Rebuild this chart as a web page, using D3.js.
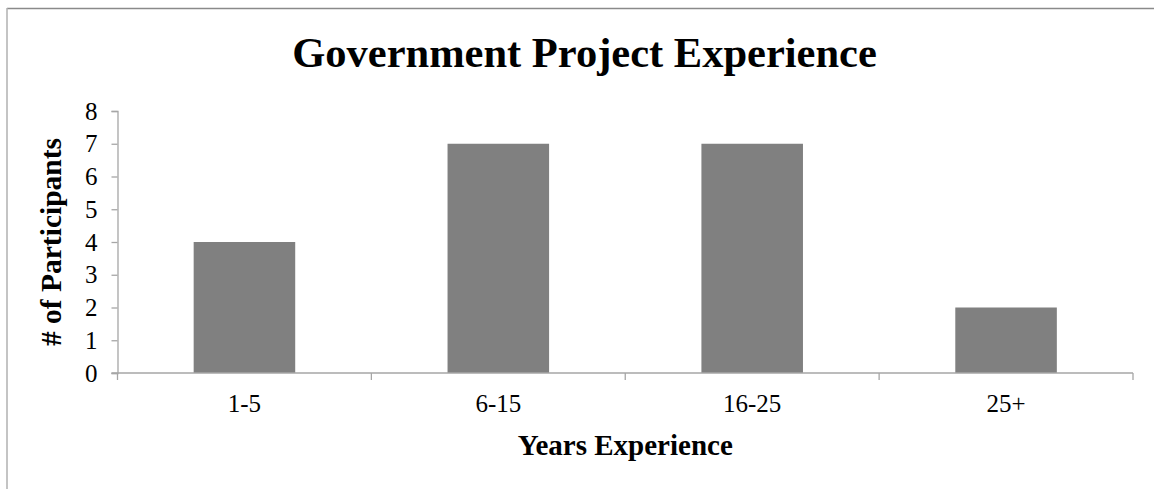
<!DOCTYPE html>
<html><head><meta charset="utf-8">
<script src="https://cdn.jsdelivr.net/npm/d3@7"></script>
<style>
html,body{margin:0;padding:0;background:#fff;}
svg{display:block;}
text{font-family:"Times New Roman","Liberation Serif",serif;fill:#000;}
</style></head>
<body>
<svg id="chart" width="1154" height="489"></svg>
<script>
const categories = ["1-5", "6-15", "16-25", "25+"];
const values = [4, 7, 7, 2];
const yTicks = [0, 1, 2, 3, 4, 5, 6, 7, 8];
const title = "Government Project Experience";
const xTitle = "Years Experience";
const yTitle = "# of Participants";

const svg = d3.select("#chart");
const W = 1154, H = 489;
const m = {left: 117.5, right: 1133, top: 111, bottom: 373};

// chart border (clipped at right/bottom like the reference)
svg.append("line").attr("x1", 7).attr("x2", W).attr("y1", 8.5).attr("y2", 8.5)
  .attr("stroke", "#8a8a8a").attr("stroke-width", 1.5);
svg.append("line").attr("x1", 7).attr("x2", 7).attr("y1", 8).attr("y2", H)
  .attr("stroke", "#b0b0b0").attr("stroke-width", 1.5);

const x = d3.scaleBand().domain(categories).range([m.left, m.right])
  .paddingInner(0.6).paddingOuter(0.3);
const y = d3.scaleLinear().domain([0, 8]).range([m.bottom, m.top]);

// bars
svg.append("g").selectAll("rect").data(values).join("rect")
  .attr("x", (d, i) => x(categories[i]))
  .attr("width", x.bandwidth())
  .attr("y", d => y(d))
  .attr("height", d => y(0) - y(d))
  .attr("fill", "#808080");

// y axis
const yAxis = svg.append("g").attr("transform", `translate(${m.left},0)`)
  .call(d3.axisLeft(y).tickValues(yTicks).tickFormat(d3.format("d")).tickSize(6).tickPadding(14));
yAxis.attr("font-family", null).attr("font-size", null);
yAxis.select(".domain").attr("stroke", "#a6a6a6").attr("stroke-width", 1.3);
yAxis.selectAll(".tick line").attr("stroke", "#a6a6a6").attr("stroke-width", 1.3);
yAxis.selectAll(".tick text").attr("font-size", 25).attr("fill", "#000");

// x axis line
svg.append("line").attr("x1", m.left - 6).attr("x2", m.right).attr("y1", y(0)).attr("y2", y(0))
  .attr("stroke", "#a6a6a6").attr("stroke-width", 1.3);
// x ticks at category boundaries
const step = x.step();
const bounds = categories.map(c => x(c) + x.bandwidth() / 2 - step / 2);
bounds.push(x(categories[categories.length - 1]) + x.bandwidth() / 2 + step / 2);
svg.append("g").selectAll("line").data(bounds).join("line")
  .attr("x1", d => d).attr("x2", d => d)
  .attr("y1", y(0)).attr("y2", y(0) + 7)
  .attr("stroke", "#a6a6a6").attr("stroke-width", 1.3);
// x labels
svg.append("g").selectAll("text").data(categories).join("text")
  .attr("x", d => x(d) + x.bandwidth() / 2)
  .attr("y", 412)
  .attr("text-anchor", "middle")
  .attr("font-size", 25)
  .text(d => d);

// title
svg.append("text").attr("x", 584.5).attr("y", 67)
  .attr("text-anchor", "middle").attr("font-size", 42.5).attr("font-weight", "bold")
  .text(title);

// axis titles
svg.append("text").attr("x", (m.left + m.right) / 2).attr("y", 455)
  .attr("text-anchor", "middle").attr("font-size", 29).attr("font-weight", "bold")
  .text(xTitle);
svg.append("text")
  .attr("transform", `translate(61,${(m.top + m.bottom) / 2}) rotate(-90)`)
  .attr("text-anchor", "middle").attr("font-size", 29.5).attr("font-weight", "bold")
  .text(yTitle);
</script>
</body></html>
